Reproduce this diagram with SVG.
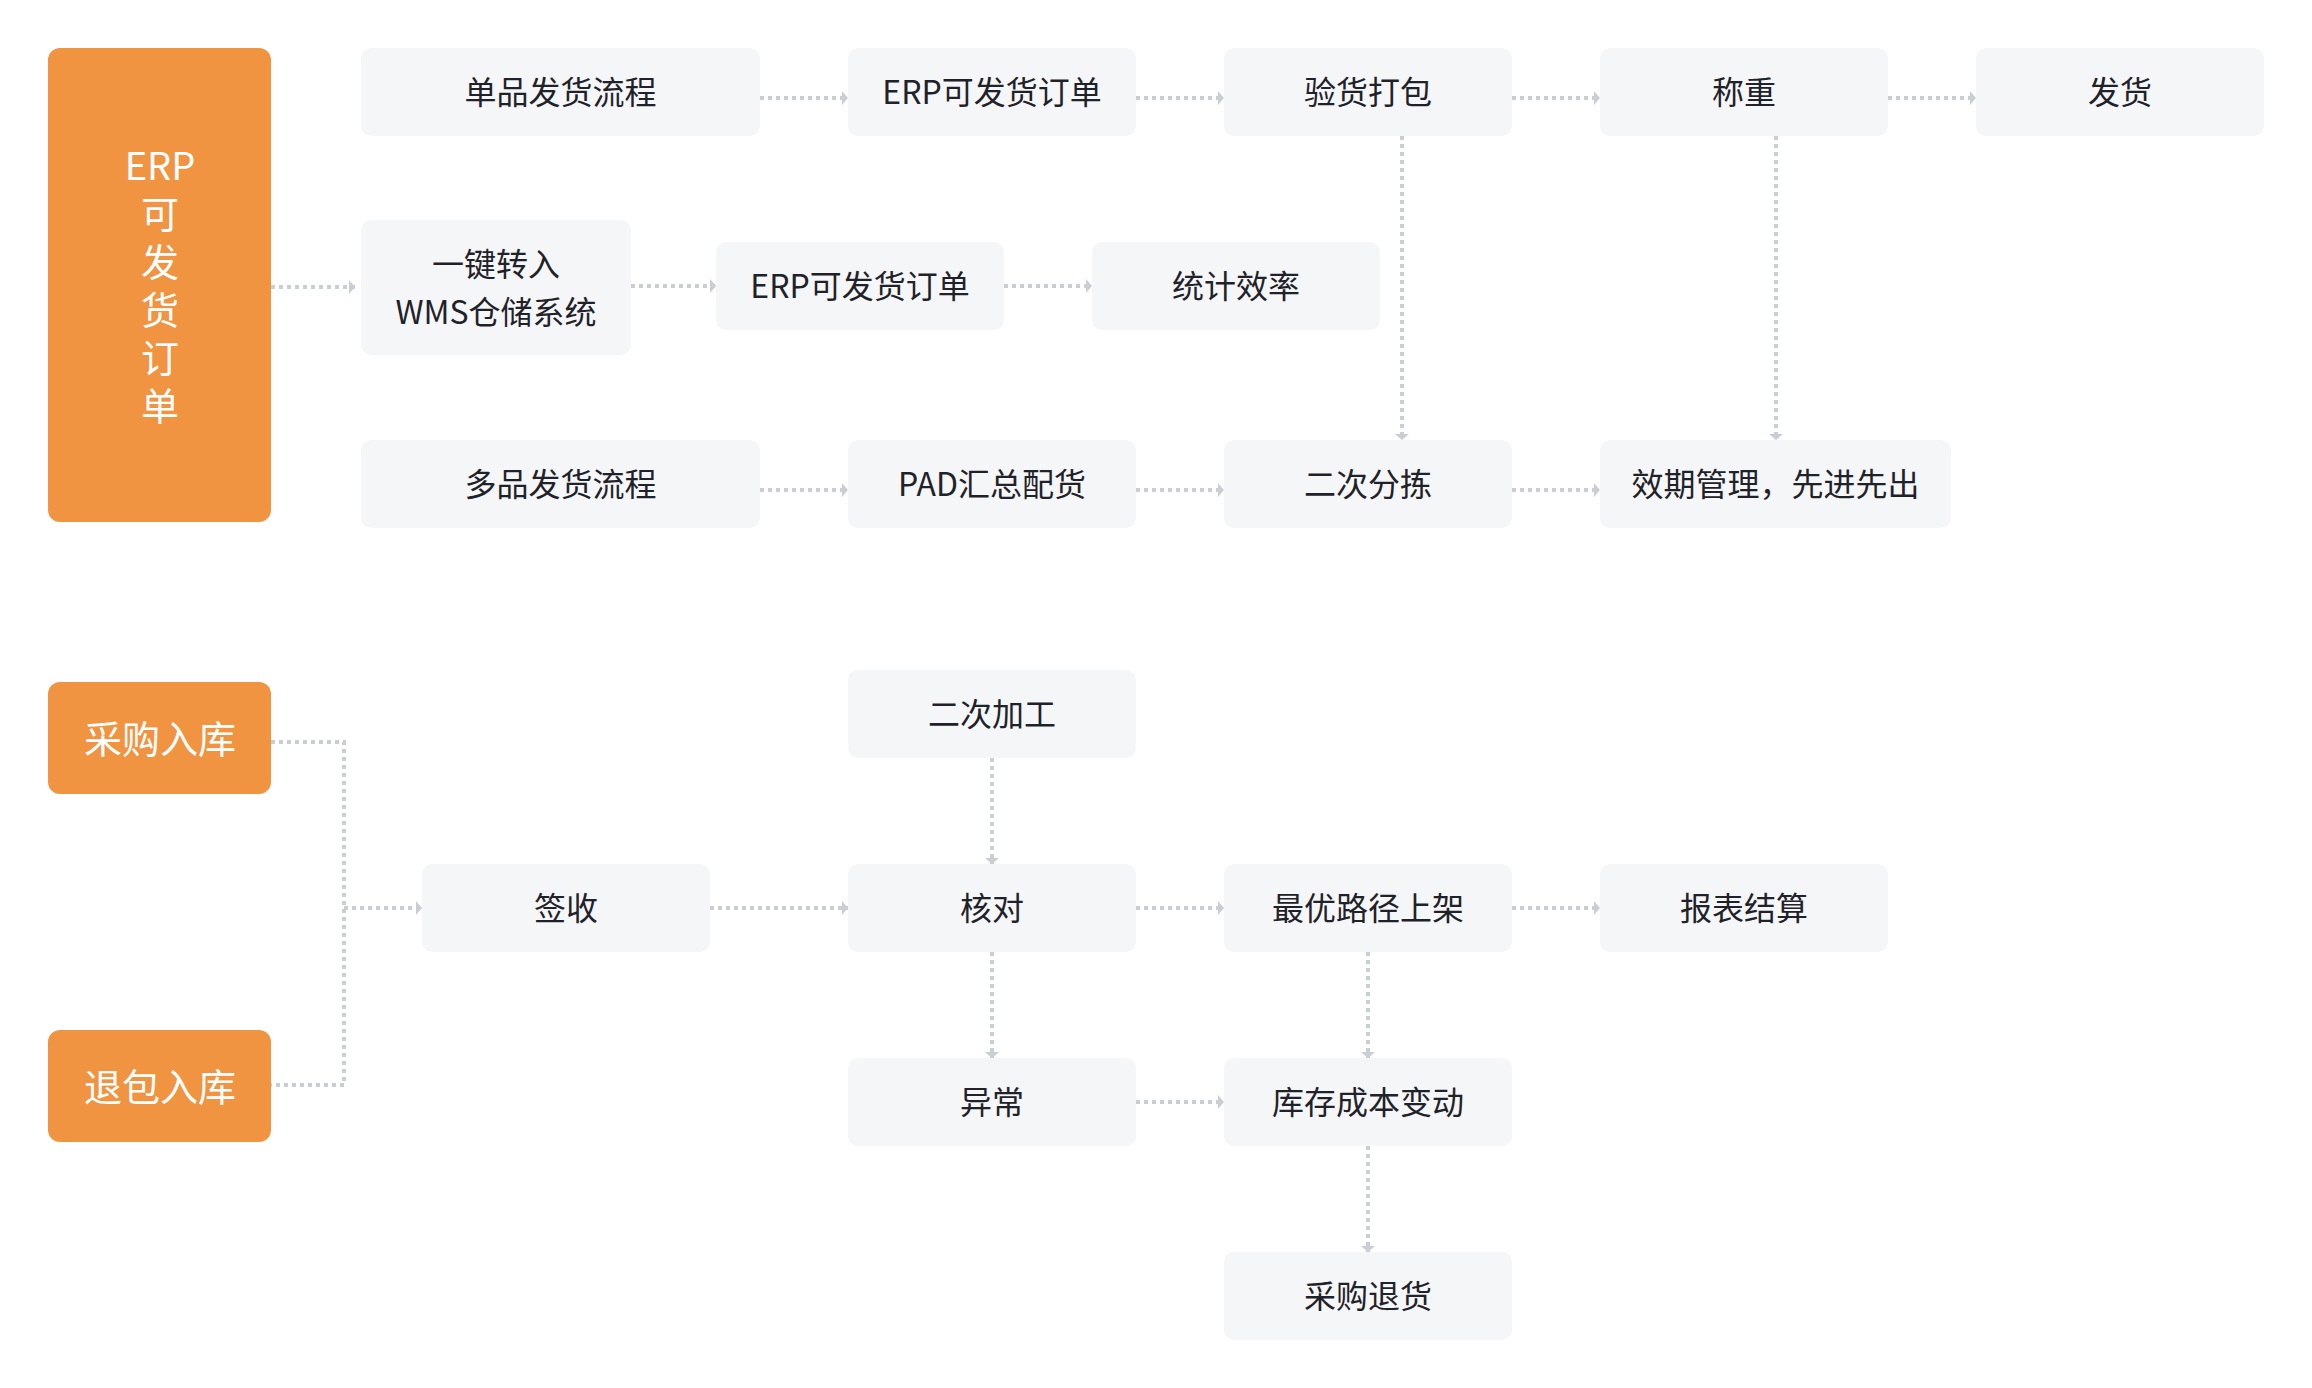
<svg xmlns="http://www.w3.org/2000/svg" width="2312" height="1388" viewBox="0 0 2312 1388">
<defs>
<style>
.box{fill:#f5f6f8;}
.org{fill:#f19441;}
.t{font-family:"Noto Sans CJK SC","Liberation Sans",sans-serif;font-size:32px;fill:#1f2329;text-anchor:middle;dominant-baseline:central;}
.ot{font-family:"Noto Sans CJK SC","Liberation Sans",sans-serif;font-size:38px;fill:#ffffff;text-anchor:middle;dominant-baseline:central;}
.c{fill:none;stroke:#c9cdd4;stroke-width:4;stroke-dasharray:4 4;}
.a{fill:#c9cdd4;}
</style>
<marker id="ah" markerUnits="userSpaceOnUse" viewBox="0 0 6 14" refX="6" refY="7" markerWidth="6" markerHeight="14" orient="auto">
<path class="a" d="M0,0 L6,7 L0,14 Z"/>
</marker>
</defs>
<rect width="2312" height="1388" fill="#ffffff"/>

<g id="connectors">
<path class="c" d="M271,287 H355" marker-end="url(#ah)"/>
<path class="c" d="M631,286 H716" marker-end="url(#ah)"/>
<path class="c" d="M1004,286 H1092" marker-end="url(#ah)"/>
<path class="c" d="M760,98 H848" marker-end="url(#ah)"/>
<path class="c" d="M1136,98 H1224" marker-end="url(#ah)"/>
<path class="c" d="M1512,98 H1600" marker-end="url(#ah)"/>
<path class="c" d="M1888,98 H1976" marker-end="url(#ah)"/>
<path class="c" d="M760,490 H848" marker-end="url(#ah)"/>
<path class="c" d="M1136,490 H1224" marker-end="url(#ah)"/>
<path class="c" d="M1512,490 H1600" marker-end="url(#ah)"/>
<path class="c" d="M1402,136 V440" marker-end="url(#ah)"/>
<path class="c" d="M1776,136 V440" marker-end="url(#ah)"/>

<path class="c" d="M271,742 H344 V1085 H271"/>
<path class="c" d="M344,908 H422" marker-end="url(#ah)"/>
<path class="c" d="M710,908 H848" marker-end="url(#ah)"/>
<path class="c" d="M1136,908 H1224" marker-end="url(#ah)"/>
<path class="c" d="M1512,908 H1600" marker-end="url(#ah)"/>
<path class="c" d="M1136,1102 H1224" marker-end="url(#ah)"/>
<path class="c" d="M992,758 V864" marker-end="url(#ah)"/>
<path class="c" d="M992,952 V1058" marker-end="url(#ah)"/>
<path class="c" d="M1368,952 V1058" marker-end="url(#ah)"/>
<path class="c" d="M1368,1146 V1252" marker-end="url(#ah)"/>
</g>

<g id="erp-orders">
<rect class="org" x="48" y="48" width="223" height="474" rx="12"/>
<text class="ot" x="160" y="163"><tspan x="160">ERP</tspan><tspan x="160" dy="48">可</tspan><tspan x="160" dy="48">发</tspan><tspan x="160" dy="48">货</tspan><tspan x="160" dy="48">订</tspan><tspan x="160" dy="48">单</tspan></text>
</g>

<g id="single-flow"><rect class="box" x="361" y="48" width="399" height="88" rx="10"/><text class="t" x="560.5" y="90">单品发货流程</text></g>
<g id="erp-order-1"><rect class="box" x="848" y="48" width="288" height="88" rx="10"/><text class="t" x="992" y="90">ERP可发货订单</text></g>
<g id="inspect-pack"><rect class="box" x="1224" y="48" width="288" height="88" rx="10"/><text class="t" x="1368" y="90">验货打包</text></g>
<g id="weigh"><rect class="box" x="1600" y="48" width="288" height="88" rx="10"/><text class="t" x="1744" y="90">称重</text></g>
<g id="ship"><rect class="box" x="1976" y="48" width="288" height="88" rx="10"/><text class="t" x="2120" y="90">发货</text></g>

<g id="wms"><rect class="box" x="361" y="220" width="270" height="135" rx="10"/><text class="t" x="496" y="262"><tspan x="496">一键转入</tspan><tspan x="496" dy="48">WMS仓储系统</tspan></text></g>
<g id="erp-order-2"><rect class="box" x="716" y="242" width="288" height="88" rx="10"/><text class="t" x="860" y="284">ERP可发货订单</text></g>
<g id="efficiency"><rect class="box" x="1092" y="242" width="288" height="88" rx="10"/><text class="t" x="1236" y="284">统计效率</text></g>

<g id="multi-flow"><rect class="box" x="361" y="440" width="399" height="88" rx="10"/><text class="t" x="560.5" y="482">多品发货流程</text></g>
<g id="pad"><rect class="box" x="848" y="440" width="288" height="88" rx="10"/><text class="t" x="992" y="482">PAD汇总配货</text></g>
<g id="sort2"><rect class="box" x="1224" y="440" width="288" height="88" rx="10"/><text class="t" x="1368" y="482">二次分拣</text></g>
<g id="fifo"><rect class="box" x="1600" y="440" width="351" height="88" rx="10"/><text class="t" x="1775.5" y="482">效期管理，先进先出</text></g>

<g id="purchase-in"><rect class="org" x="48" y="682" width="223" height="112" rx="12"/><text class="ot" x="160" y="736">采购入库</text></g>
<g id="return-in"><rect class="org" x="48" y="1030" width="223" height="112" rx="12"/><text class="ot" x="160" y="1084">退包入库</text></g>

<g id="sign"><rect class="box" x="422" y="864" width="288" height="88" rx="10"/><text class="t" x="566" y="906">签收</text></g>
<g id="process2"><rect class="box" x="848" y="670" width="288" height="88" rx="10"/><text class="t" x="992" y="712">二次加工</text></g>
<g id="check"><rect class="box" x="848" y="864" width="288" height="88" rx="10"/><text class="t" x="992" y="906">核对</text></g>
<g id="exception"><rect class="box" x="848" y="1058" width="288" height="88" rx="10"/><text class="t" x="992" y="1100">异常</text></g>
<g id="shelve"><rect class="box" x="1224" y="864" width="288" height="88" rx="10"/><text class="t" x="1368" y="906">最优路径上架</text></g>
<g id="cost"><rect class="box" x="1224" y="1058" width="288" height="88" rx="10"/><text class="t" x="1368" y="1100">库存成本变动</text></g>
<g id="purchase-return"><rect class="box" x="1224" y="1252" width="288" height="88" rx="10"/><text class="t" x="1368" y="1294">采购退货</text></g>
<g id="report"><rect class="box" x="1600" y="864" width="288" height="88" rx="10"/><text class="t" x="1744" y="906">报表结算</text></g>
</svg>
